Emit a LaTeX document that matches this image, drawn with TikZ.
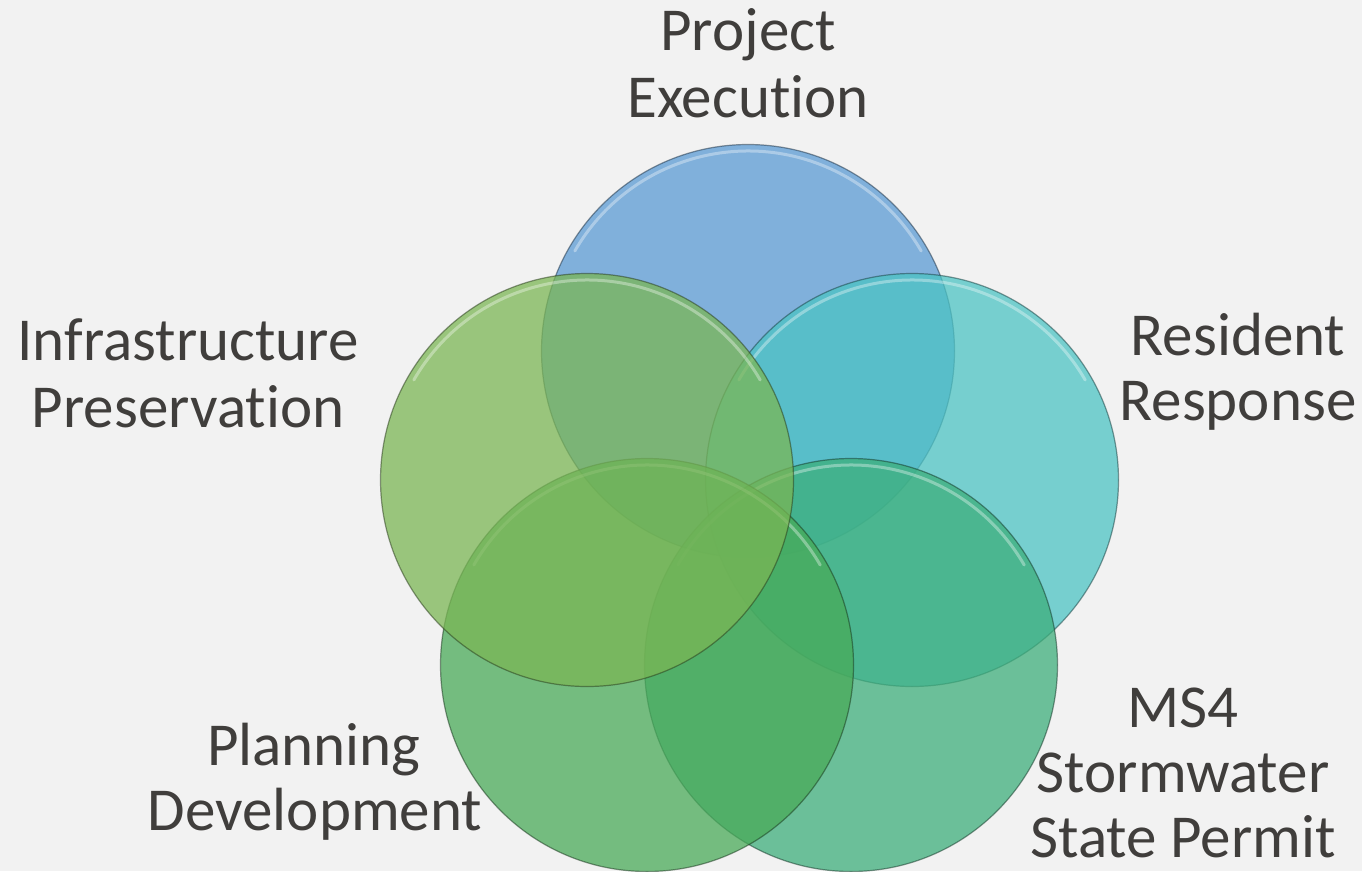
\documentclass[tikz,border=0pt]{standalone}
\usepackage{fontspec}
\setmainfont{Carlito}[Ligatures=NoCommon]
\definecolor{bg}{RGB}{242,242,242}
\definecolor{txt}{RGB}{64,62,60}
\definecolor{cTop}{RGB}{89,154,211}
\definecolor{cRight}{RGB}{75,196,196}
\definecolor{cBR}{RGB}{60,174,122}
\definecolor{cBL}{RGB}{72,170,88}
\definecolor{cLeft}{RGB}{122,182,84}
\tikzset{
  disc/.style={circle, minimum size=413pt, inner sep=0pt, fill=#1, fill opacity=0.74,
    draw=black!70!#1, draw opacity=0.5, line width=1.2pt},
  lbl/.style={anchor=base, text=txt, font=\fontsize{61}{67}\selectfont, inner sep=0pt},
  gloss/.style={white, opacity=0.35, line width=3pt, line cap=round}
}
\begin{document}
\begin{tikzpicture}[x=1pt,y=-1pt]
\fill[bg] (0,0) rectangle (1362,871);
\useasboundingbox (0,0) rectangle (1362,871);
\begin{scope}
\clip (0,0) rectangle (1362,871);
\node[disc=cTop] (top) at (748,351) {};
\draw[gloss] (748,351) ++(-150:200) arc[start angle=-150, end angle=-30, radius=200];
\node[disc=cRight] (right) at (912,480) {};
\draw[gloss] (912,480) ++(-150:200) arc[start angle=-150, end angle=-30, radius=200];
\node[disc=cBR] (br) at (851,665) {};
\draw[gloss] (851,665) ++(-150:200) arc[start angle=-150, end angle=-30, radius=200];
\node[disc=cBL] (bl) at (647,665) {};
\draw[gloss] (647,665) ++(-150:200) arc[start angle=-150, end angle=-30, radius=200];
\node[disc=cLeft] (left) at (587,480) {};
\draw[gloss] (587,480) ++(-150:200) arc[start angle=-150, end angle=-30, radius=200];
\end{scope}
\node[lbl] (pe1) at (748,50) {Project};
\node[lbl] (pe2) at (748,117) {Execution};
\node[lbl] (ip1) at (188,360) {Infrastructure};
\node[lbl] (ip2) at (188,427) {Preservation};
\node[lbl] (rr1) at (1238,355) {Resident};
\node[lbl] (rr2) at (1238,420) {Response};
\node[lbl] (pd1) at (314,765) {Planning};
\node[lbl] (pd2) at (315,830) {Development};
\node[lbl] (ms1) at (1183,727) {MS4};
\node[lbl] (ms2) at (1183,792) {Stormwater};
\node[lbl] (ms3) at (1183,857) {State Permit};
\end{tikzpicture}
\end{document}
